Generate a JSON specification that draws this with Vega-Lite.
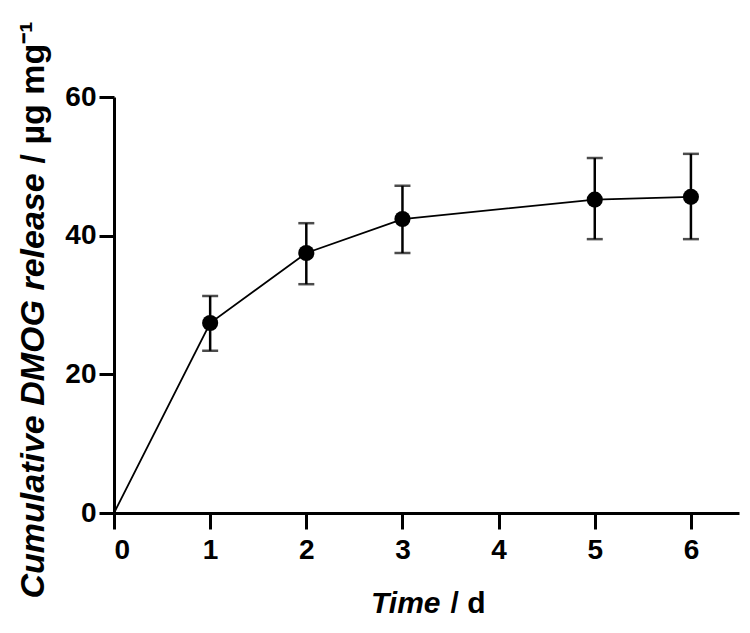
{
  "$schema": "https://vega.github.io/schema/vega-lite/v6.json",
  "width": 625,
  "height": 416,
  "autosize": {"type": "none"},
  "padding": {"left": 114, "top": 97, "right": 11, "bottom": 120},
  "background": "white",
  "config": {"view": {"stroke": null}, "font": "Liberation Sans"},
  "data": {
    "values": [
      {"t": 0, "mean": 0, "lo": null, "hi": null},
      {"t": 1, "mean": 27.4, "lo": 23.4, "hi": 31.3},
      {"t": 2, "mean": 37.5, "lo": 33.0, "hi": 41.8},
      {"t": 3, "mean": 42.4, "lo": 37.5, "hi": 47.2},
      {"t": 5, "mean": 45.2, "lo": 39.5, "hi": 51.2},
      {"t": 6, "mean": 45.6, "lo": 39.5, "hi": 51.8}
    ]
  },
  "layer": [
    {
      "mark": {"type": "line", "color": "black", "strokeWidth": 1.8},
      "encoding": {
        "x": {
          "field": "t", "type": "quantitative",
          "scale": {"domain": [0, 6.5], "nice": false, "zero": false},
          "axis": {
            "values": [0, 1, 2, 3, 4, 5, 6], "grid": false,
            "domainColor": "black", "domainWidth": 3,
            "tickColor": "black", "tickWidth": 3, "tickSize": 16,
            "labelFontSize": 28, "labelFontWeight": "bold", "labelColor": "black", "labelPadding": 7,
            "title": "Time", "titleFontStyle": "italic", "titleFontWeight": "bold", "titleFontSize": 30,
            "titleColor": "black", "titleAlign": "right", "titleBaseline": "middle",
            "titleX": 326, "titleY": 90
          }
        },
        "y": {
          "field": "mean", "type": "quantitative",
          "scale": {"domain": [0, 60], "nice": false},
          "axis": {
            "values": [0, 20, 40, 60], "grid": false,
            "domainColor": "black", "domainWidth": 3,
            "tickColor": "black", "tickWidth": 3, "tickSize": 15,
            "labelFontSize": 28, "labelFontWeight": "bold", "labelColor": "black", "labelPadding": 3,
            "title": "Cumulative DMOG release", "titleFontStyle": "italic", "titleFontWeight": "bold", "titleFontSize": 34,
            "titleColor": "black", "titleAngle": -90, "titleAlign": "left", "titleBaseline": "middle",
            "titleX": -81, "titleY": 501
          }
        }
      }
    },
    {
      "transform": [{"filter": "datum.t > 0"}],
      "mark": {"type": "rule", "color": "black", "strokeWidth": 2.5},
      "encoding": {
        "x": {"field": "t", "type": "quantitative", "scale": {"domain": [0, 6.5], "nice": false, "zero": false}, "axis": null},
        "y": {"field": "lo", "type": "quantitative", "scale": {"domain": [0, 60], "nice": false}, "axis": null},
        "y2": {"field": "hi"}
      }
    },
    {
      "transform": [{"filter": "datum.t > 0"}],
      "mark": {"type": "tick", "color": "black", "orient": "horizontal", "size": 16, "thickness": 2.5},
      "encoding": {
        "x": {"field": "t", "type": "quantitative", "scale": {"domain": [0, 6.5], "nice": false, "zero": false}, "axis": null},
        "y": {"field": "lo", "type": "quantitative", "scale": {"domain": [0, 60], "nice": false}, "axis": null}
      }
    },
    {
      "transform": [{"filter": "datum.t > 0"}],
      "mark": {"type": "tick", "color": "black", "orient": "horizontal", "size": 16, "thickness": 2.5},
      "encoding": {
        "x": {"field": "t", "type": "quantitative", "scale": {"domain": [0, 6.5], "nice": false, "zero": false}, "axis": null},
        "y": {"field": "hi", "type": "quantitative", "scale": {"domain": [0, 60], "nice": false}, "axis": null}
      }
    },
    {
      "transform": [{"filter": "datum.t > 0"}],
      "mark": {"type": "circle", "color": "black", "opacity": 1, "size": 260},
      "encoding": {
        "x": {
          "field": "t", "type": "quantitative",
          "scale": {"domain": [0, 6.5], "nice": false, "zero": false},
          "axis": {
            "orient": "bottom", "domain": false, "ticks": false, "labels": false, "grid": false,
            "title": "/ d", "titleFontStyle": "normal", "titleFontWeight": "bold", "titleFontSize": 30,
            "titleColor": "black", "titleAlign": "left", "titleBaseline": "middle",
            "titleX": 336, "titleY": 90
          }
        },
        "y": {
          "field": "mean", "type": "quantitative",
          "scale": {"domain": [0, 60], "nice": false},
          "axis": {
            "orient": "left", "domain": false, "ticks": false, "labels": false, "grid": false,
            "title": "/ µg mg⁻¹", "titleFontStyle": "normal", "titleFontWeight": "bold", "titleFontSize": 34,
            "titleColor": "black", "titleAngle": -90, "titleAlign": "left", "titleBaseline": "middle",
            "titleX": -81, "titleY": 66
          }
        }
      }
    }
  ],
  "resolve": {"scale": {"x": "independent", "y": "independent"}}
}
